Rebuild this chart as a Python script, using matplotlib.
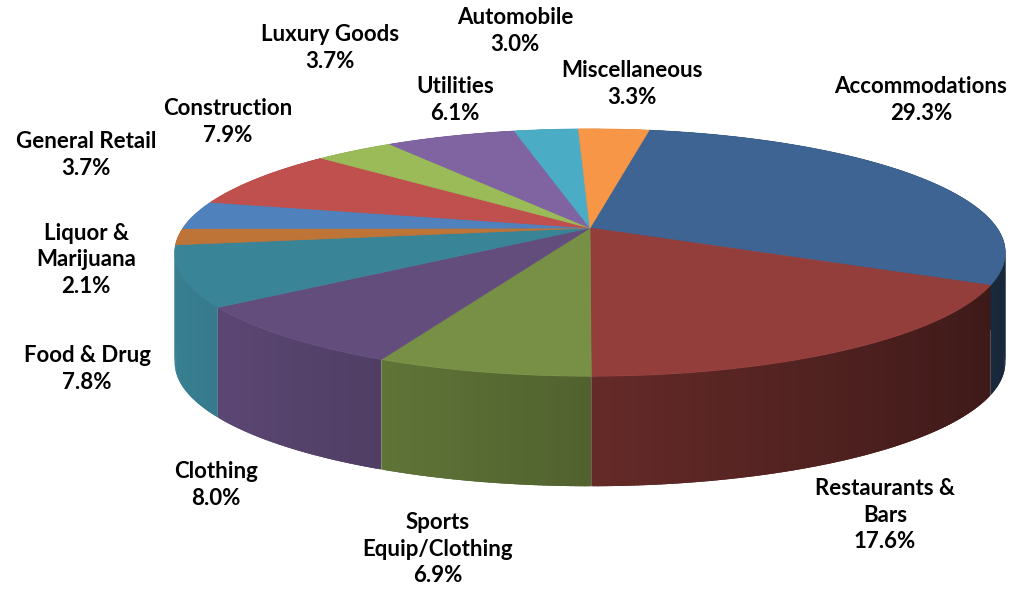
import numpy as np
import matplotlib
matplotlib.use("Agg")
import matplotlib.pyplot as plt
from matplotlib.collections import PolyCollection
from matplotlib.colors import to_rgb

# data
categories = ["Accommodations", "Restaurants &\nBars", "Sports\nEquip/Clothing", "Clothing",
              "Food & Drug", "Liquor &\nMarijuana", "General Retail", "Construction",
              "Luxury Goods", "Utilities", "Automobile", "Miscellaneous"]
shares = [29.3, 17.6, 6.9, 8.0, 7.8, 2.1, 3.7, 7.9, 3.7, 6.1, 3.0, 3.3]
colors = ["#3d6492", "#943e3b", "#779045", "#634d7d", "#3a8498", "#be7436",
          "#4f81bd", "#c0504d", "#9bbb59", "#8064a2", "#4bacc6", "#f79646"]

# layout (pixels) - label block centres, as Excel placed them
label_xy = [(921, 100), (885, 515), (438, 549), (216, 485), (87, 369), (86, 260),
            (86, 155), (228, 122), (330, 48), (455, 100), (515, 31), (632, 84)]

# 3d view settings
start_deg = 10.0      # first slice starts 10 deg clockwise from the back
elev = np.radians(17.5)
dist = 4.8            # camera distance in pie radii
cx, cy = 590, 228     # projected pie centre
kx, ky = 407, 395     # pixels per radius
depth = 110           # wall height in pixels


def project(theta):
    # theta clockwise from the far side of the pie, radius 1, top face
    X = np.sin(theta)
    Y = np.cos(theta)
    w = Y * np.cos(elev)
    s = dist / (dist + w)
    return cx + kx * X * s, cy - ky * Y * np.sin(elev) * s


def shade(col, f):
    r, g, b = to_rgb(col)
    return (r * f, g * f, b * f)


fig = plt.figure(figsize=(10.32, 5.92), dpi=100)
ax = fig.add_axes([0, 0, 1, 1])
ax.set_xlim(0, 1032)
ax.set_ylim(592, 0)
ax.axis("off")

total = sum(shares)
bounds = np.radians(start_deg + 360 * np.concatenate([[0], np.cumsum(shares)]) / total)

# outer walls, drawn back to front as thin overlapping strips
quads, qcols, qdepth = [], [], []
for i in range(len(shares)):
    n = max(4, int(np.degrees(bounds[i + 1] - bounds[i]) * 2))
    th = np.linspace(bounds[i], bounds[i + 1], n)
    step = th[1] - th[0]
    for a, b in zip(th[:-1], th[1:]):
        a2 = max(bounds[i], a - 0.6 * step)
        b2 = min(bounds[i + 1], b + 0.6 * step)
        arc = np.linspace(a2, b2, 3)
        px, py = project(arc)
        top = list(zip(px, py))
        bot = list(zip(px[::-1], py[::-1] + depth))
        quads.append(top + bot)
        m = 0.5 * (a + b)
        qcols.append(shade(colors[i], 0.68 - 0.3 * np.sin(m)))
        qdepth.append(np.cos(m))
order = np.argsort(qdepth)[::-1]
walls = PolyCollection([quads[k] for k in order], facecolors=[qcols[k] for k in order],
                       edgecolors="none", linewidths=0)
ax.add_collection(walls)

# top faces
for i in range(len(shares)):
    th = np.linspace(bounds[i], bounds[i + 1], 120)
    px, py = project(th)
    pts = [(cx, cy)] + list(zip(px, py))
    ax.add_patch(plt.Polygon(pts, closed=True, facecolor=colors[i], edgecolor=colors[i], lw=0.5))

# labels
for name, v, (lx, ly) in zip(categories, shares, label_xy):
    ax.text(lx, ly, f"{name}\n{v:.1f}%", ha="center", va="center", fontsize=16,
            fontweight="bold", family=["Lato", "DejaVu Sans"], linespacing=1.3, color="black")

fig.savefig("out.png", dpi=100)
